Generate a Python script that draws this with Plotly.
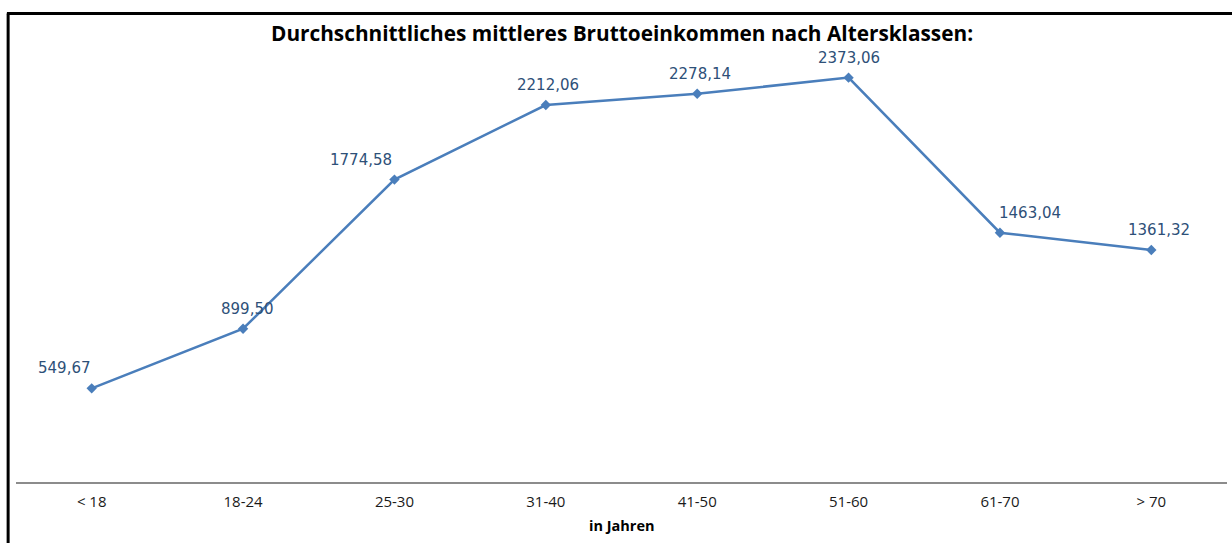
import plotly.graph_objects as go

categories = ["< 18", "18-24", "25-30", "31-40", "41-50", "51-60", "61-70", "> 70"]
values = [549.67, 899.50, 1774.58, 2212.06, 2278.14, 2373.06, 1463.04, 1361.32]
value_labels = ["549,67", "899,50", "1774,58", "2212,06", "2278,14", "2373,06", "1463,04", "1361,32"]
label_xshift = [-27, 4, -33, 2, 3, 0, 30, 8]

title_text = "Durchschnittliches mittleres Bruttoeinkommen nach Altersklassen:"
x_title = "in Jahren"

fig = go.Figure()
fig.add_trace(go.Scatter(
    x=categories, y=values, mode="lines+markers",
    line=dict(color="#4A7EBB", width=2.5),
    marker=dict(symbol="diamond", size=8, color="#4A7EBB"),
    hoverinfo="skip", showlegend=False,
))

for c, v, t, xs in zip(categories, values, value_labels, label_xshift):
    fig.add_annotation(x=c, y=v, text=t, showarrow=False, xshift=xs, yshift=20, yanchor="middle",
                       font=dict(family="DejaVu Sans", size=15, color="#2E5078"))

fig.add_annotation(x=0.5, y=1.0, xref="paper", yref="paper", yshift=23, yanchor="middle",
                   text="<b>" + title_text + "</b>",
                   showarrow=False, font=dict(family="Open Sans", size=20.8, color="#000000"))
fig.add_annotation(x=0.5, y=0.0, xref="paper", yref="paper", yshift=-43, yanchor="middle",
                   text="<b>" + x_title + "</b>",
                   showarrow=False, font=dict(family="Open Sans", size=14.5, color="#000000"))

# frame (top and left edges)
fig.add_shape(type="line", xref="paper", yref="paper", x0=-0.0075, x1=1.01, y0=1.1, y1=1.1,
              line=dict(color="#000000", width=3))
fig.add_shape(type="line", xref="paper", yref="paper", x0=-0.0065, x1=-0.0065, y0=1.1, y1=-0.2,
              line=dict(color="#000000", width=3))

fig.update_layout(
    width=1232, height=543, autosize=False,
    margin=dict(l=16, r=5, t=56, b=61),
    paper_bgcolor="white", plot_bgcolor="white",
    xaxis=dict(type="category", range=[-0.5, 7.5], showgrid=False, showline=True,
               linecolor="#8C8C8C", linewidth=1.5, ticks="", ticklabelstandoff=5,
               tickfont=dict(family="Open Sans", size=15, color="#1A1A1A"),
               zeroline=False, fixedrange=True),
    yaxis=dict(range=[0, 2500], visible=False, showgrid=False, zeroline=False, fixedrange=True),
)

fig.write_html("out.html", config={"displayModeBar": False},
               post_script="document.body.style.margin='0';document.body.style.overflow='hidden';")
